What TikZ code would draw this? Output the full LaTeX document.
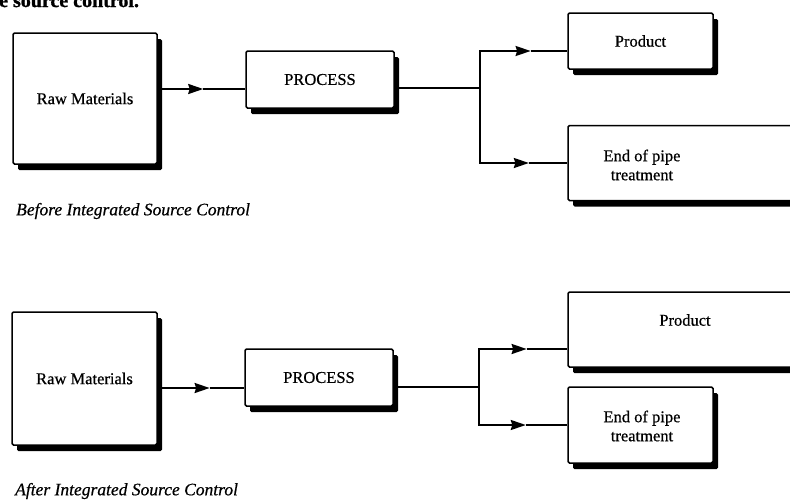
\documentclass[tikz,border=0pt]{standalone}
\usepackage{fontspec}
\setmainfont{Liberation Serif}[FakeBold=0.6]
\newfontfamily\headfont{Liberation Serif}[FakeBold=1.2]
\usetikzlibrary{shadows,arrows.meta,calc}

\begin{document}
\begin{tikzpicture}[x=1pt,y=-1pt,
  box/.style={draw, line width=1.5pt, fill=white, rounded corners=1.5pt, inner sep=0pt,
    font=\fontsize{16.5}{19}\selectfont,
    general shadow={fill=black, shadow xshift=5pt, shadow yshift=-6pt}},
  lbl/.style={font=\fontsize{16.5}{19}\selectfont, align=center, inner sep=0pt},
  wire/.style={line width=2pt},
  head/.style={line width=2pt, -{Stealth[length=15pt,width=10pt,inset=1.5pt]}},
  caption/.style={font=\fontsize{17.5}{20}\selectfont\itshape, anchor=west, inner sep=0pt}]

\useasboundingbox (0,0) rectangle (790,499);
\clip (0,0) rectangle (790,499);

% heading fragment at the top edge
\node[anchor=base west, inner sep=0pt, font=\fontsize{20}{20}\headfont\bfseries] (title) at (-1,7) {e source control.};

% ---------- before integrated source control ----------
\node[box, minimum width=144pt, minimum height=131pt] (raw1) at (85,98.5) {Raw Materials};
\node[box, minimum width=148pt, minimum height=57pt] (proc1) at (320,79.5) {PROCESS};
\node[box, minimum width=145pt, minimum height=56pt] (prod1) at (640.5,41) {Product};
\node[box, minimum width=262pt, minimum height=75pt] (end1) at (699,163) {};
\node[lbl] (end1txt) at (642,165) {End of pipe\\treatment};

\coordinate (in1) at ($(proc1.west)+(0,9.5)$);
\coordinate (j1) at (480,88);
\coordinate (pin1) at ($(prod1.west)+(0,10)$);
% arrowhead tips along the flows
\coordinate (m1) at ($(raw1.east |- in1)!0.52!(in1)$);
\coordinate (mp1) at ($(j1 |- pin1)!0.58!(pin1)$);
\coordinate (me1) at ($(j1 |- end1.west)!0.56!(end1.west)$);

\draw[head] (raw1.east |- in1) -- (m1);
\draw[wire] (m1) -- (in1);
\draw[wire] (proc1.east |- j1) -- (j1);
\draw[wire, line cap=rect] (j1 |- pin1) -- (j1 |- end1.west);
\draw[head] (j1 |- pin1) -- (mp1);
\draw[wire] (mp1) -- (pin1);
\draw[head] (j1 |- end1.west) -- (me1);
\draw[wire] (me1) -- (end1.west);

\node[caption] (cap1) at (16,211) {Before Integrated Source Control};

% ---------- after integrated source control ----------
\node[box, minimum width=145pt, minimum height=133pt] (raw2) at (84.5,378.5) {Raw Materials};
\node[box, minimum width=148pt, minimum height=57pt] (proc2) at (319,377.5) {PROCESS};
\node[box, minimum width=262pt, minimum height=75pt] (prod2) at (699,329.5) {};
\node[lbl] (prod2txt) at (685,320) {Product};
\node[box, minimum width=145pt, minimum height=76pt] (end2) at (640.5,425) {};
\node[lbl] (end2txt) at (642,426) {End of pipe\\treatment};

\coordinate (in2) at ($(proc2.west)+(0,10.5)$);
\coordinate (j2) at (479,387);
\coordinate (pin2) at ($(prod2.west)+(0,19.5)$);
\coordinate (m2) at ($(raw2.east |- in2)!0.6!(in2)$);
\coordinate (mp2) at ($(j2 |- pin2)!0.54!(pin2)$);
\coordinate (me2) at ($(j2 |- end2.west)!0.53!(end2.west)$);

\draw[head] (raw2.east |- in2) -- (m2);
\draw[wire] (m2) -- (in2);
\draw[wire] (proc2.east |- j2) -- (j2);
\draw[wire, line cap=rect] (j2 |- pin2) -- (j2 |- end2.west);
\draw[head] (j2 |- pin2) -- (mp2);
\draw[wire] (mp2) -- (pin2);
\draw[head] (j2 |- end2.west) -- (me2);
\draw[wire] (me2) -- (end2.west);

\node[caption] (cap2) at (15,491) {After Integrated Source Control};

\end{tikzpicture}
\end{document}
